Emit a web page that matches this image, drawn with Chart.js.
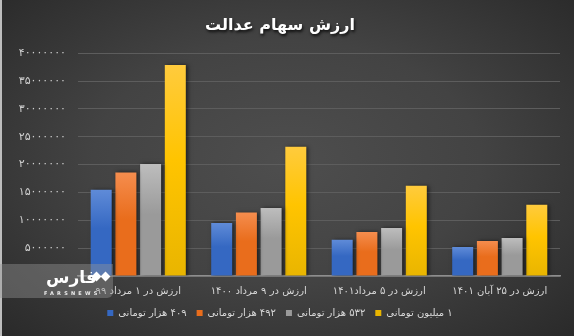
<!DOCTYPE html>
<html><head><meta charset="utf-8">
<script src="https://cdn.jsdelivr.net/npm/chart.js@4"></script>
<style>
html,body{margin:0;padding:0;background:#333}
#wrap{position:relative;width:574px;height:336px;overflow:hidden;
 background:radial-gradient(ellipse 75% 80% at 50% 48%, #4e4e4e 0%, #434343 45%, #2e2e2e 85%, #262626 100%)}
#c{position:absolute;left:0;top:0}
#edge{position:absolute;left:0;top:0;width:2px;height:336px;background:#bdbdbd}
#logo{position:absolute;left:0;top:264px;width:113px;height:34px;background:rgba(150,150,150,0.42);border-radius:0 0 6px 0}
#logo .fa{position:absolute;left:46px;top:3px;font:bold 17px 'DejaVu Sans';color:#fff}
#logo .en{position:absolute;left:44px;top:26px;font:bold 5px 'DejaVu Sans';letter-spacing:3.2px;color:#eee}
#logo .d{position:absolute;width:7px;height:7px;background:#fff;transform:rotate(45deg)}
</style></head>
<body>
<div id="wrap">
<canvas id="c" width="574" height="336"></canvas>
<div id="edge"></div>
<div id="logo"><span class="fa">فارس</span><div class="d" style="left:93px;top:9px"></div><div class="d" style="left:102px;top:9px"></div><span class="en">FARSNEWS</span></div>
</div>
<script>
const categories = ['ارزش در ۱ مرداد ۹۹', 'ارزش در ۹ مرداد ۱۴۰۰', 'ارزش در ۵ مرداد۱۴۰۱', 'ارزش در ۲۵ آبان ۱۴۰۱'];
const seriesNames = ['۴۰۹ هزار تومانی', '۴۹۲ هزار تومانی', '۵۳۲ هزار تومانی', '۱ میلیون تومانی'];
const s409 = [15500000, 9500000, 6500000, 5200000];
const s492 = [18600000, 11400000, 7900000, 6300000];
const s532 = [20100000, 12200000, 8600000, 6800000];
const s1m  = [37900000, 23200000, 16200000, 12800000];
const yMax = 40000000;
const yStep = 5000000;

const faDigits = '۰۱۲۳۴۵۶۷۸۹';
const toFa = n => String(n).replace(/\d/g, d => faDigits[d]);

const palettes = [
  ['#5f8bd8', '#3568c2'],
  ['#f58d4e', '#e96d1c'],
  ['#bdbdbd', '#9a9a9a'],
  ['#ffcb3d', '#e9b500']
];
function grad(idx) {
  return function(ctx) {
    const chart = ctx.chart;
    const area = chart.chartArea;
    if (!area || ctx.raw == null) return palettes[idx][1];
    const yTop = chart.scales.y.getPixelForValue(ctx.raw);
    const g = chart.ctx.createLinearGradient(0, yTop, 0, area.bottom);
    g.addColorStop(0, palettes[idx][0]);
    g.addColorStop(0.45, idx === 3 ? '#ffc400' : palettes[idx][1]);
    g.addColorStop(1, palettes[idx][1]);
    return g;
  };
}
const seriesData = [s409, s492, s532, s1m];

const shadowPlugin = {
  id: 'shadow',
  beforeDatasetsDraw(chart) {
    const c = chart.ctx; c.save();
    c.shadowColor = 'rgba(0,0,0,0.55)'; c.shadowBlur = 4; c.shadowOffsetX = 2; c.shadowOffsetY = 0;
  },
  afterDatasetsDraw(chart) { chart.ctx.restore(); },
  beforeDraw(chart) {
    const tb = chart.titleBlock;
    if (tb && !tb._patched) {
      const orig = tb.draw.bind(tb);
      tb.draw = function() {
        const c = chart.ctx; c.save();
        c.shadowColor = 'rgba(0,0,0,0.8)'; c.shadowBlur = 3; c.shadowOffsetX = 1; c.shadowOffsetY = 2;
        orig(); c.restore();
      };
      tb._patched = true;
    }
    const ys = chart.scales.y;
    if (ys && !ys._patched) {
      const origL = ys.drawLabels.bind(ys);
      ys.drawLabels = function(a) {
        const c = chart.ctx; c.save();
        c.letterSpacing = '1px';
        origL(a); c.restore();
      };
      ys._patched = true;
    }
  }
};

new Chart(document.getElementById('c'), {
  type: 'bar',
  data: {
    labels: categories,
    datasets: seriesData.map((d, i) => ({
      label: seriesNames[i],
      data: d,
      backgroundColor: grad(i),
      borderWidth: 0,
      categoryPercentage: 0.82,
      barPercentage: 0.85
    }))
  },
  options: {
    responsive: false,
    animation: false,
    devicePixelRatio: 1,
    layout: { padding: { left: 0, right: 14, top: 0, bottom: 8 } },
    plugins: {
      title: {
        display: true,
        text: 'ارزش سهام عدالت',
        color: '#ffffff',
        font: { family: 'DejaVu Sans', size: 16, weight: 'bold' },
        padding: { top: 16, bottom: 18 }
      },
      legend: {
        position: 'bottom',
        textDirection: 'rtl',
        labels: {
          color: '#d8d8d8',
          font: { family: 'DejaVu Sans', size: 10 },
          boxWidth: 6, boxHeight: 6,
          padding: 10,
          generateLabels(chart) {
            return chart.data.datasets.map((ds, i) => ({
              text: ds.label, fillStyle: palettes[i][1], strokeStyle: palettes[i][1],
              lineWidth: 0, hidden: false, datasetIndex: i, fontColor: '#d8d8d8'
            }));
          }
        }
      },
      tooltip: { enabled: false }
    },
    scales: {
      x: {
        grid: { display: false },
        border: { display: true, color: '#8e8e8e', width: 1.5 },
        ticks: { color: '#d8d8d8', font: { family: 'DejaVu Sans', size: 10 }, padding: 1, maxRotation: 0, autoSkip: false }
      },
      y: {
        min: 0, max: yMax,
        afterFit(scale) { scale.width = 78; },
        grid: { color: '#5d5d5d', lineWidth: 1, drawTicks: false },
        border: { display: false },
        ticks: {
          stepSize: yStep,
          color: '#cfcfcf',
          font: { family: 'DejaVu Sans', size: 11 },
          padding: 12,
          callback: v => v === 0 ? '' : toFa(v)
        }
      }
    }
  },
  plugins: [shadowPlugin]
});
</script>
</body></html>
